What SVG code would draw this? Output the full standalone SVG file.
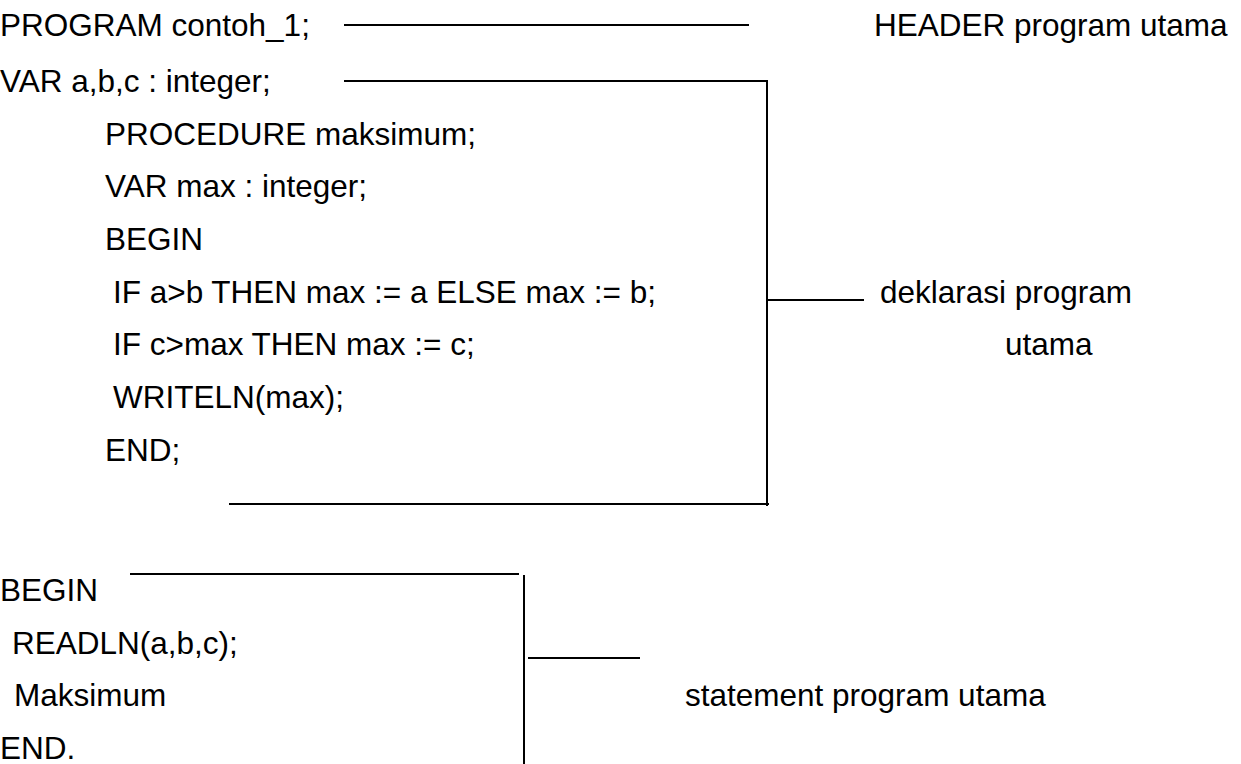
<svg xmlns="http://www.w3.org/2000/svg" width="1241" height="764" viewBox="0 0 1241 764">
<style>
text{font-family:"Liberation Sans",Arial,sans-serif;font-size:31.5px;fill:#000}
.ln{stroke:#000;stroke-width:2;fill:none}
</style>
<rect width="1241" height="764" fill="#fff"/>
<g id="code-header"><text x="0" y="36">PROGRAM contoh_1;</text></g>
<g id="code-decl">
<text x="0" y="92">VAR a,b,c : integer;</text>
<text x="105" y="145">PROCEDURE maksimum;</text>
<text x="105" y="197">VAR max : integer;</text>
<text x="105" y="250">BEGIN</text>
<text x="113" y="303">IF a&gt;b THEN max := a ELSE max := b;</text>
<text x="113" y="355">IF c&gt;max THEN max := c;</text>
<text x="113" y="408">WRITELN(max);</text>
<text x="105" y="461">END;</text>
</g>
<g id="code-main">
<text x="0" y="601">BEGIN</text>
<text x="12" y="654">READLN(a,b,c);</text>
<text x="14" y="706">Maksimum</text>
<text x="0" y="759">END.</text>
</g>
<g id="label-header"><text x="874" y="36">HEADER program utama</text></g>
<g id="label-decl"><text x="880" y="303">deklarasi program</text><text x="1005" y="355">utama</text></g>
<g id="label-stmt"><text x="685" y="706">statement program utama</text></g>
<g id="connectors">
<line class="ln" x1="344" y1="25" x2="749" y2="25"/>
<polyline class="ln" points="344,81 767,81 767,506"/>
<line class="ln" x1="229" y1="504" x2="769" y2="504"/>
<line class="ln" x1="767" y1="300" x2="864" y2="300"/>
<line class="ln" x1="130" y1="574" x2="519" y2="574"/>
<line class="ln" x1="524" y1="575" x2="524" y2="764"/>
<line class="ln" x1="528" y1="658" x2="640" y2="658"/>
</g>
</svg>
